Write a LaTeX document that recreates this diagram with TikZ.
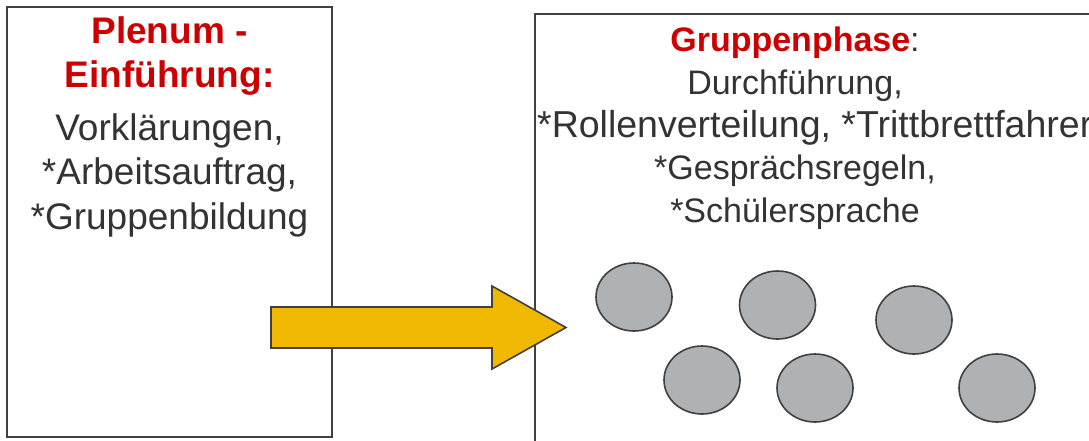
\documentclass[tikz,border=0pt]{standalone}
\usepackage{fontspec}
\setmainfont{Liberation Sans}
\usetikzlibrary{shapes.geometric}

\definecolor{titlered}{RGB}{204,0,0}
\definecolor{textgray}{RGB}{51,51,51}
\definecolor{framegray}{RGB}{64,64,64}
\definecolor{arrowgold}{RGB}{240,185,0}
\definecolor{pupilgray}{RGB}{174,178,181}

\tikzset{
  phasebox/.style={draw=framegray, line width=1.8pt},
  title/.style={text=titlered, font=\fontsize{37}{44}\selectfont\bfseries, align=center, inner sep=0pt, anchor=base},
  body/.style={text=textgray, font=\fontsize{37}{44.5}\selectfont, align=center, inner sep=0pt, anchor=base},
  smallbody/.style={body, font=\fontsize{34}{43}\selectfont},
  pupil/.style={ellipse, draw=framegray, line width=1.6pt, fill=pupilgray, minimum width=76pt, minimum height=68pt, inner sep=0pt}
}

\begin{document}
\begin{tikzpicture}[x=1pt, y=-1pt]
    \clip (0,0) rectangle (1089,440);
    \fill[white] (0,0) rectangle (1089,440);
    % both phases
    \draw[phasebox] (535,14) rectangle (1110,460);
    \draw[phasebox] (7,7) rectangle (332,437);
    % plenum text (base = last line)
    \node[title] (plenum) at (169.5,87) {Plenum -\\Einführung:};
    \node[body] (vorklaerung) at (169.5,229) {Vorklärungen,\\*Arbeitsauftrag,\\*Gruppenbildung};
    % group phase text
    \node[smallbody] (gruppen) at (795,94) {\textcolor{titlered}{\bfseries Gruppenphase}:\\Durchführung,};
    \node[body, anchor=base west, font=\fontsize{37.5}{44}\selectfont] (rollen) at (537,137) {*Rollenverteilung, *Trittbrettfahrer};
    \node[smallbody] (regeln) at (795,222) {*Gesprächsregeln,\\*Schülersprache};
    % the groups
    \foreach \x/\y [count=\i] in {634/297, 777.5/305, 914/320, 702/380, 815/388, 997/388}
        \node[pupil] (g\i) at (\x,\y) {};
    % transition arrow
    \filldraw[draw=framegray, line width=1.6pt, fill=arrowgold, line join=miter]
        (271,307) -- (492,307) -- (492,286) -- (566,327.5) -- (492,369) -- (492,348) -- (271,348) -- cycle;
\end{tikzpicture}
\end{document}
